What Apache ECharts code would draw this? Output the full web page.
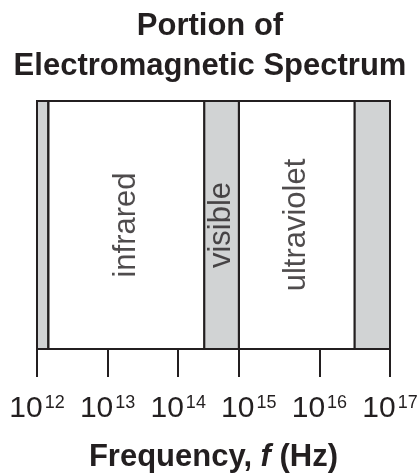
<!DOCTYPE html>
<html>
<head>
<meta charset="utf-8">
<script src="https://cdn.jsdelivr.net/npm/echarts@6/dist/echarts.min.js"></script>
<style>
  html, body { margin: 0; padding: 0; background: #fff; }
  #chart { width: 420px; height: 475px; }
</style>
</head>
<body>
<div id="chart"></div>
<script>
// exponents of frequency (Hz), x axis is log10(f)
const tickExponents = [12, 13, 14, 15, 16, 17];
const tickMarks = [12, 13, 14, 14.86, 16, 17];
const bandEdges = [12, 12.16, 14.37, 14.86, 16.5, 17];
const bandNames = ['', 'infrared', 'visible', 'ultraviolet', ''];
const bandShaded = [true, false, true, false, true];

const ink = '#231f20';
const gray = '#d1d3d4';
const font = "'Liberation Sans', Arial, Helvetica, sans-serif";

const chart = echarts.init(document.getElementById('chart'), null, { renderer: 'canvas' });

// shaded bands + boundary lines
const areas = [];
for (let i = 0; i < bandNames.length; i++) {
    areas.push([
        { xAxis: bandEdges[i], itemStyle: { color: bandShaded[i] ? gray : 'rgba(0,0,0,0)' } },
        { xAxis: bandEdges[i + 1] }
    ]);
}

// labels in the middle of the named bands
const labelPoints = [];
for (let i = 0; i < bandNames.length; i++) {
    if (bandNames[i]) {
        labelPoints.push({ value: [(bandEdges[i] + bandEdges[i + 1]) / 2, 0.5], name: bandNames[i] });
    }
}

const option = {
    animation: false,
    title: {
        text: 'Portion of\nElectromagnetic Spectrum',
        left: 'center',
        top: 1,
        textStyle: {
            fontFamily: font,
            fontWeight: 'bold',
            fontSize: 31,
            lineHeight: 40,
            color: ink
        }
    },
    grid: {
        left: 37,
        right: 30,
        top: 101,
        bottom: 126,
        outerBoundsMode: 'none',
        show: true,
        borderColor: ink,
        borderWidth: 2
    },
    xAxis: {
        type: 'value',
        min: 12,
        max: 17,
        interval: 1,
        splitLine: { show: false },
        axisLine: { show: true, lineStyle: { color: ink, width: 2 } },
        axisTick: {
            show: true,
            customValues: tickMarks,
            length: 28,
            lineStyle: { color: ink, width: 2 }
        },
        axisLabel: {
            customValues: tickExponents,
            margin: 45,
            formatter: function (v) {
                return '{b|10}{s|' + v + '}';
            },
            rich: {
                b: { fontFamily: font, fontSize: 30, color: ink, lineHeight: 30, verticalAlign: 'top' },
                s: { fontFamily: font, fontSize: 18, color: ink, lineHeight: 18, verticalAlign: 'top', padding: [0, 0, 0, 2] }
            }
        },
        name: 'Frequency, {i|f} (Hz)',
        nameLocation: 'middle',
        nameGap: 93,
        nameTextStyle: {
            fontFamily: font,
            fontWeight: 'bold',
            fontSize: 31,
            color: ink,
            rich: {
                i: { fontFamily: font, fontWeight: 'bold', fontStyle: 'italic', fontSize: 31, color: ink }
            }
        }
    },
    yAxis: {
        type: 'value',
        min: 0,
        max: 1,
        show: false
    },
    series: [
        {
            type: 'scatter',
            data: labelPoints,
            symbolSize: 0,
            silent: true,
            z: 5,
            label: {
                show: true,
                position: 'inside',
                rotate: 90,
                formatter: '{b}',
                fontFamily: font,
                fontSize: 31,
                color: ink
            },
            markArea: {
                silent: true,
                itemStyle: { borderColor: ink, borderWidth: 2 },
                data: areas
            }
        }
    ]
};

chart.setOption(option);
</script>
</body>
</html>
